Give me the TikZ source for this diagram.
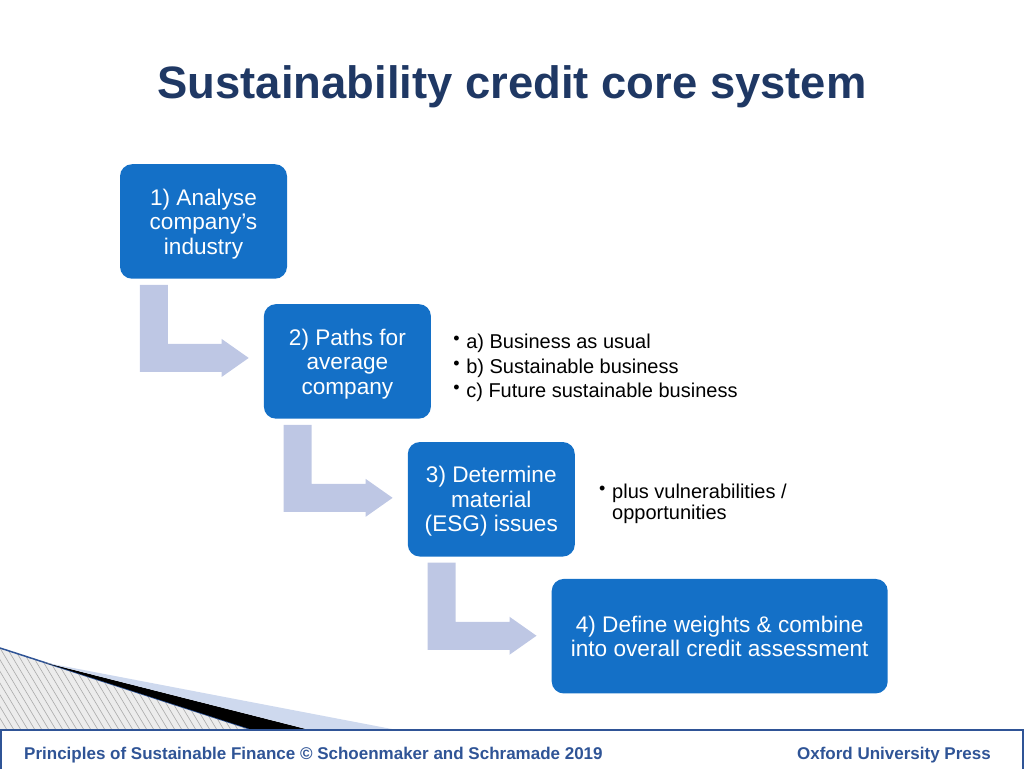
\documentclass[tikz,border=0pt]{standalone}
\usepackage{fontspec}
\setmainfont{Liberation Sans}
\usetikzlibrary{positioning, calc}

\definecolor{stageblue}{RGB}{20,112,199}
\definecolor{flowblue}{RGB}{190,199,228}
\definecolor{titlenavy}{RGB}{31,56,100}
\definecolor{footblue}{RGB}{47,84,150}
\definecolor{wedgeblue}{RGB}{206,217,238}
\definecolor{hatchgray}{RGB}{236,236,236}
\definecolor{hatchline}{RGB}{170,170,170}

\newcommand{\bul}{\makebox[13pt][l]{\raisebox{4pt}{\fontsize{18}{18}\selectfont\textbullet}}}

\begin{document}
\begin{tikzpicture}[x=1pt,y=1pt,
    stage node/.style={rectangle,rounded corners=12pt,fill=stageblue,text=white,
      minimum width=167pt,minimum height=114.5pt,inner sep=0pt,align=center,
      text depth=0pt,font=\fontsize{22.6}{24.5}\selectfont},
    note node/.style={inner sep=0pt,align=left,anchor=north west,
      font=\fontsize{20}{24.5}\selectfont},
    foot node/.style={inner sep=0pt,text=footblue,font=\fontsize{17}{20}\selectfont\bfseries},
    flow/.style={fill=flowblue}]

  \useasboundingbox (0,0) rectangle (1024,768);

  \node[font=\fontsize{45.4}{55}\selectfont\bfseries,text=titlenavy,anchor=base] (title)
    at (512,669) {Sustainability credit core system};

  \node[stage node] (1) at (203.5,546.5) {1) Analyse\\company’s\\industry};
  \node[stage node] (2) [below right=25pt and -23.5pt of 1] {2) Paths for\\average\\company};
  \node[stage node] (3) [below right=23pt and -23.5pt of 2] {3) Determine\\material\\(ESG) issues};
  \node[stage node,minimum width=336pt] (4) [below right=22pt and -23.5pt of 3]
    {4) Define weights \& combine\\into overall credit assessment};

  \node[note node] (2a) at ([xshift=22pt,yshift=-30pt]2.north east)
    {\bul a) Business as usual\\\bul b) Sustainable business\\\bul c) Future sustainable business};
  \node[note node,font=\fontsize{20}{21}\selectfont] (3a) at ([xshift=24pt,yshift=-42pt]3.north east)
    {\bul plus vulnerabilities /\\\hspace*{13pt}opportunities};

  % bent arrows between the stages
  \foreach \a/\b in {1/2,2/3,3/4}
    \fill[flow] let \p1=(\a.south west), \p2=(\b.west) in
      (\x1+20pt,\y1-6pt) -- ++(28,0) |- (\x2-42pt,\y1-65pt) -- ++(0,5)
      -- (\x2-15pt,\y1-79pt) -- (\x2-42pt,\y1-98pt) -- ++(0,5)
      -| (\x1+20pt,\y1-6pt) -- cycle;

  % corner decoration
  \begin{scope}
    \clip (0,120) -- (253,38) -- (0,38) -- cycle;
    \fill[hatchgray] (0,38) rectangle (253,120);
    \foreach \i in {0,7,...,259}
      \draw[hatchline,line width=0.6pt] (\i,38) -- ++(-55,92);
  \end{scope}
  \draw[footblue,line width=1.5pt] (0,120) -- (253,38);
  \fill[black] (45,105.4) -- (310,38) -- (253,38) -- cycle;
  \fill[wedgeblue] (45,105.4) -- (397,38) -- (310,38) -- cycle;

  % footer
  \draw[footblue,line width=2pt,fill=white] (1,-5) rectangle (1023,38);
  \node[foot node,anchor=base west] (src)
    at (24,9) {Principles of Sustainable Finance © Schoenmaker and Schramade 2019};
  \node[foot node,anchor=base east] (pub) at (991,9) {Oxford University Press};
\end{tikzpicture}
\end{document}
